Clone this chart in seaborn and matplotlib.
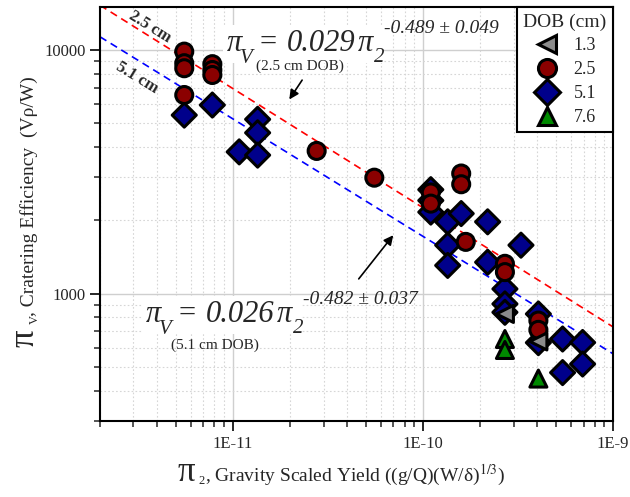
import numpy as np
import pandas as pd
import matplotlib
matplotlib.use("Agg")
import matplotlib.pyplot as plt
from matplotlib.lines import Line2D
from matplotlib.patches import Rectangle
from matplotlib.ticker import LogLocator, FixedLocator, FixedFormatter, NullFormatter
import seaborn as sns

# ---- measured data: gravity-scaled yield (pi_2) vs cratering efficiency (pi_V) ----
dob_51_pi2 = [5.55e-12, 7.8e-12, 1.08e-11, 1.35e-11, 1.35e-11, 1.35e-11,
              1.1e-10, 1.1e-10, 1.1e-10, 1.35e-10, 1.35e-10, 1.35e-10, 1.59e-10,
              2.19e-10, 2.19e-10, 3.28e-10, 2.7e-10, 2.7e-10, 2.7e-10,
              4.05e-10, 4.05e-10, 5.43e-10, 5.43e-10, 6.92e-10, 6.92e-10]
dob_51_piv = [5400, 5940, 3815, 5190, 4570, 3700,
              2670, 2410, 2160, 1970, 1580, 1305, 2130,
              1970, 1345, 1580, 1045, 907, 838,
              825, 629, 651, 474, 630, 514]

dob_25_pi2 = [5.55e-12, 5.55e-12, 5.55e-12, 5.55e-12, 7.8e-12, 7.8e-12, 7.8e-12,
              2.76e-11, 5.55e-11, 1.1e-10, 1.1e-10, 1.59e-10, 1.59e-10, 1.68e-10,
              2.7e-10, 2.7e-10, 4.05e-10, 4.05e-10]
dob_25_piv = [9840, 8820, 8410, 6530, 8740, 8270, 7890,
              3850, 2990, 2600, 2340, 3110, 2810, 1630,
              1325, 1225, 775, 710]

dob_13_pi2 = [2.7e-10, 4.05e-10]
dob_13_piv = [825, 636]

dob_76_pi2 = [2.7e-10, 2.7e-10, 4.05e-10]
dob_76_piv = [651, 587, 448]

dob_order = ["1.3", "2.5", "5.1", "7.6"]

# power-law fits: pi_V = a * pi_2 ** b  (with exponent uncertainty)
fit_25 = (0.029, -0.489, 0.049)
fit_51 = (0.026, -0.482, 0.037)

x_range = [2e-12, 1e-9]
y_range = [300, 15000]
x_tick_values = [1e-11, 1e-10, 1e-9]
x_tick_labels = ["1E-11", "1E-10", "1E-9"]
y_tick_values = [1000, 10000]
y_tick_labels = ["1000", "10000"]

# ---- assemble (5.1 cm drawn first so the others sit on top) ----
df = pd.concat([
    pd.DataFrame({"pi2": dob_51_pi2, "piv": dob_51_piv, "DOB": "5.1"}),
    pd.DataFrame({"pi2": dob_25_pi2, "piv": dob_25_piv, "DOB": "2.5"}),
    pd.DataFrame({"pi2": dob_13_pi2, "piv": dob_13_piv, "DOB": "1.3"}),
    pd.DataFrame({"pi2": dob_76_pi2, "piv": dob_76_piv, "DOB": "7.6"}),
], ignore_index=True)

palette = {"1.3": "#8c8c8c", "2.5": "#8b0000", "5.1": "#00008b", "7.6": "#008a00"}
markers = {"1.3": "<", "2.5": "o", "5.1": "D", "7.6": "^"}

sns.set_style("white")
plt.rcParams["font.family"] = ["Liberation Serif", "DejaVu Serif"]
plt.rcParams["mathtext.fontset"] = "stix"

W, H = 630, 497
fig = plt.figure(figsize=(W / 100, H / 100), dpi=100)
ax = fig.add_axes([100 / W, 76 / H, 513 / W, 414 / H])
ax.set_xscale("log")
ax.set_yscale("log")


def px(x, y):
    """pixel position (from top-left) -> figure fraction"""
    return x / W, 1 - y / H


# fit lines
xf = np.array(x_range)
sns.lineplot(x=xf, y=fit_25[0] * xf ** fit_25[1], ax=ax, color="#ff0000",
             lw=1.2, zorder=2)
sns.lineplot(x=xf, y=fit_51[0] * xf ** fit_51[1], ax=ax, color="#0000ff",
             lw=1.2, zorder=2)
for ln in ax.lines:
    ln.set_dashes([4.5, 3])

sns.scatterplot(data=df, x="pi2", y="piv", hue="DOB", style="DOB",
                hue_order=dob_order, style_order=dob_order,
                palette=palette, markers=markers, s=150,
                edgecolor="black", linewidth=2.2, legend=False, ax=ax, zorder=3)

ax.set_xlim(x_range)
ax.set_ylim(y_range)

# ticks
ax.xaxis.set_major_locator(FixedLocator(x_tick_values))
ax.xaxis.set_major_formatter(FixedFormatter(x_tick_labels))
ax.xaxis.set_minor_locator(LogLocator(base=10, subs=np.arange(2, 10), numticks=20))
ax.xaxis.set_minor_formatter(NullFormatter())
ax.yaxis.set_major_locator(FixedLocator(y_tick_values))
ax.yaxis.set_major_formatter(FixedFormatter(y_tick_labels))
ax.yaxis.set_minor_locator(LogLocator(base=10, subs=np.arange(2, 10), numticks=20))
ax.yaxis.set_minor_formatter(NullFormatter())
ax.tick_params(which="major", direction="out", length=7, width=1.4,
               labelsize=12, bottom=True, left=True, top=False, right=False)
ax.tick_params(which="minor", direction="out", length=4, width=1.1,
               bottom=True, left=True, top=False, right=False)
ax.set_xlabel("")
ax.set_ylabel("")

ax.grid(which="major", color="#cfcfcf", lw=1.0, ls="-", zorder=0)
ax.grid(which="minor", color="#d6d6d6", lw=0.8, ls=(0, (1.5, 2)), zorder=0)
ax.set_axisbelow(True)
for sp in ax.spines.values():
    sp.set_color("black")
    sp.set_linewidth(1.5)

# axis titles
fig.text(*px(178, 481), "π", fontsize=25, va="baseline", ha="left")
fig.text(*px(198, 484), "2", fontsize=9, va="baseline", ha="left")
fig.text(*px(205, 481),
         r", Gravity Scaled Yield ((g/Q)(W/δ)$^{1/3}$)", fontsize=14,
         va="baseline", ha="left")
fig.text(*px(34, 347), "π", fontsize=25, rotation=90,
         rotation_mode="anchor", va="baseline", ha="left")
fig.text(*px(38, 324), "V", fontsize=9, rotation=90,
         rotation_mode="anchor", va="baseline", ha="left")
fig.text(*px(34, 316), ", Cratering Efficiency  (Vρ/W)", fontsize=14,
         rotation=90, rotation_mode="anchor", va="baseline", ha="left")

# line labels
ax.text(0.0975, 0.952, "2.5 cm", transform=ax.transAxes, fontsize=12,
        fontweight="bold", rotation=-32, rotation_mode="anchor",
        ha="center", va="center")
ax.text(0.072, 0.829, "5.1 cm", transform=ax.transAxes, fontsize=12,
        fontweight="bold", rotation=-31.6, rotation_mode="anchor",
        ha="center", va="center")


# fit equations, typeset piece by piece in italic serif
def equation(x0, y0, fit, note):
    a, b, db = fit
    # white backing that interrupts the grid behind the formula
    bx, by = px(x0 - 4, y0 + 12)
    ax.add_patch(Rectangle((bx, by), 160 / W, 38 / H, transform=fig.transFigure,
                           facecolor="white", edgecolor="none", zorder=1))
    pieces = [
        ("π", 0, 0, 22),
        ("V", 13, 12, 15),
        ("=", 31, 0, 22),
        (f"{a:.3f}", 60, 0, 22),
        ("π", 131, 0, 22),
        ("2", 147, 11, 15),
        (f"{b:.3f} ± {db:.3f}", 157, -18, 14),
    ]
    for s, dx, dy, size in pieces:
        fig.text(*px(x0 + dx, y0 + dy), s, fontsize=size, style="italic",
                 va="baseline", ha="left", zorder=5)
    fig.text(*px(x0 + note[0], y0 + note[1]), note[2], fontsize=11,
             va="baseline", ha="center", zorder=5)


equation(227, 51, fit_25, (73, 19, "(2.5 cm DOB)"))
equation(146, 322, fit_51, (69, 27, "(5.1 cm DOB)"))

arrow = dict(arrowstyle="-|>", color="black", lw=1.2, mutation_scale=14)
ax.annotate("", xy=(0.366, 0.771), xytext=(0.397, 0.829),
            xycoords="axes fraction", arrowprops=arrow)
ax.annotate("", xy=(0.575, 0.454), xytext=(0.501, 0.338),
            xycoords="axes fraction", arrowprops=arrow)

# legend
handles = [Line2D([], [], ls="none", marker=markers[k], markersize=13,
                  markerfacecolor=palette[k], markeredgecolor="black",
                  markeredgewidth=2.2) for k in dob_order]
leg = ax.legend(handles, dob_order, title="DOB (cm)", loc="upper right",
                borderaxespad=0.0, fontsize=13, title_fontsize=14,
                frameon=True, fancybox=False, framealpha=1,
                edgecolor="black", labelspacing=0.38, handletextpad=0.7,
                handlelength=1.5, borderpad=0.35)
leg.get_frame().set_linewidth(1.5)
leg.set_zorder(10)

fig.savefig("out.png", dpi=100)
